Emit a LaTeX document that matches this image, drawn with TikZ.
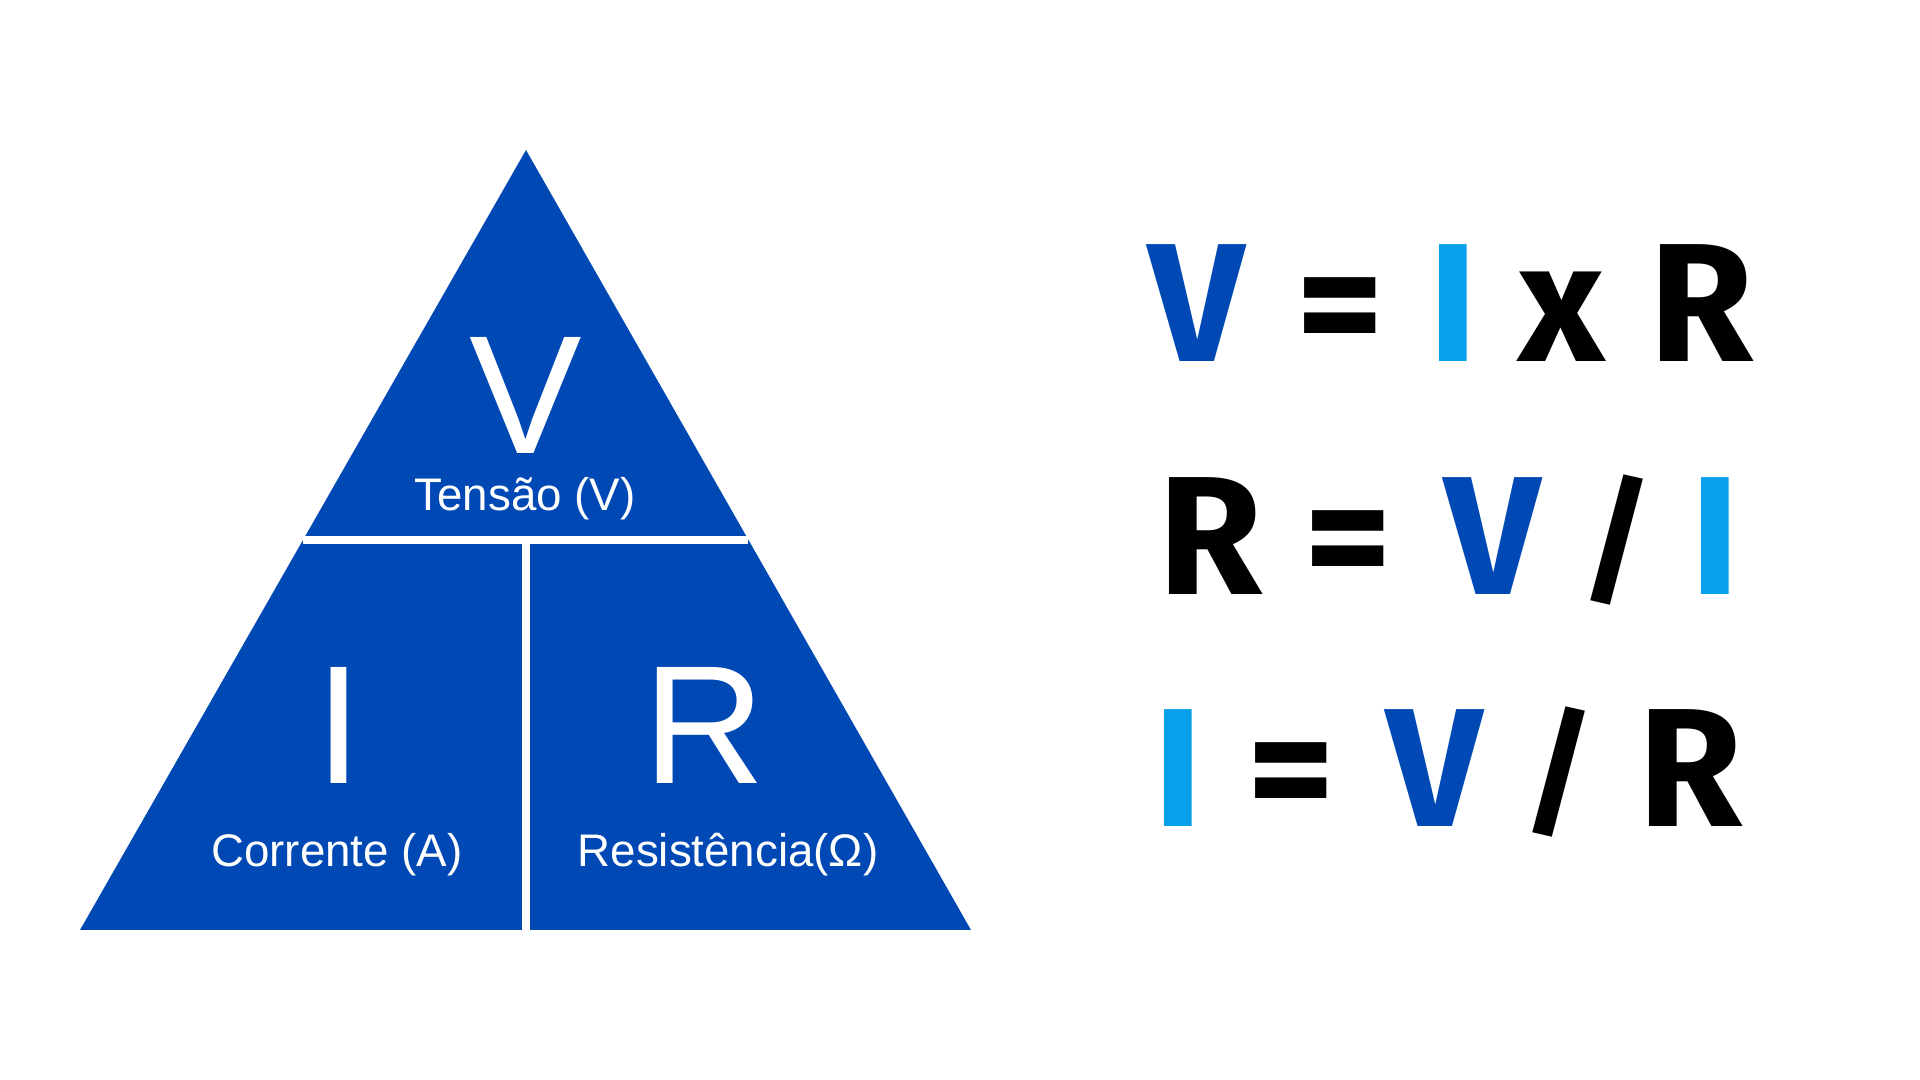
\documentclass[tikz,border=0pt]{standalone}
\usepackage{fontspec}
\setmainfont{Liberation Sans}
\newfontfamily\eqfont{Fira Sans}
\usepackage{tikz}

\definecolor{triblue}{RGB}{0,73,181}
\definecolor{curblue}{RGB}{8,160,234}

\begin{document}
\begin{tikzpicture}[
        big/.style={text=white, anchor=base, inner sep=0pt, font=\fontsize{48}{48}\selectfont},
        lbl/.style={text=white, anchor=base, inner sep=0pt, font=\fontsize{13}{13}\selectfont},
        eq/.style={anchor=base, inner sep=0pt, font=\eqfont\bfseries\fontsize{48}{48}\selectfont},
        slash/.style={eq, font=\eqfont\bfseries\fontsize{40}{40}\selectfont},
        divider/.style={white, line width=0.8mm}
    ]
        \useasboundingbox (0,0) rectangle (19.2,10.8);

        % triangle
        \coordinate (top) at (5.26,9.30);
        \coordinate (bl) at (0.80,1.50);
        \coordinate (br) at (9.71,1.50);
        \fill[triblue] (top) -- (br) -- (bl) -- cycle;

        \coordinate (hl) at (3.03,5.40);
        \coordinate (hr) at (7.48,5.40);
        \coordinate (vt) at (5.26,5.40);
        \coordinate (vb) at (5.26,1.50);
        \draw[divider] (hl) -- (hr);
        \draw[divider] (vt) -- (vb);

        \node[big] (v) at (5.26,6.26) {V};
        \node[lbl] (tensao) at (5.25,5.69) {Tensão (V)};
        \node[big] (i) at (3.385,2.96) {I};
        \node[lbl] (corrente) at (3.37,2.13) {Corrente (A)};
        \node[big] (r) at (7.04,2.96) {R};
        \node[lbl] (resist) at (7.28,2.13) {Resistência(Ω)};

        % V = I x R
        \node[eq, text=triblue] (v1) at (11.965,7.18) {V};
        \node[eq] (eq1) at (13.40,7.18) {=};
        \node[eq, text=curblue] (i1) at (14.535,7.18) {I};
        \node[eq] (x1) at (15.62,7.18) {x};
        \node[eq] (r1) at (17.02,7.18) {R};

        % R = V / I
        \node[eq] (r2) at (12.105,4.85) {R};
        \node[eq] (eq2) at (13.48,4.85) {=};
        \node[eq, text=triblue] (v2) at (14.925,4.85) {V};
        \node[slash] (s2) at (16.175,4.90) {/};
        \node[eq, text=curblue] (i2) at (17.155,4.85) {I};

        % I = V / R
        \node[eq, text=curblue] (i3) at (11.785,2.53) {I};
        \node[eq] (eq3) at (12.915,2.53) {=};
        \node[eq, text=triblue] (v3) at (14.345,2.53) {V};
        \node[slash] (s3) at (15.59,2.58) {/};
        \node[eq] (r3) at (16.905,2.53) {R};
    \end{tikzpicture}
\end{document}
